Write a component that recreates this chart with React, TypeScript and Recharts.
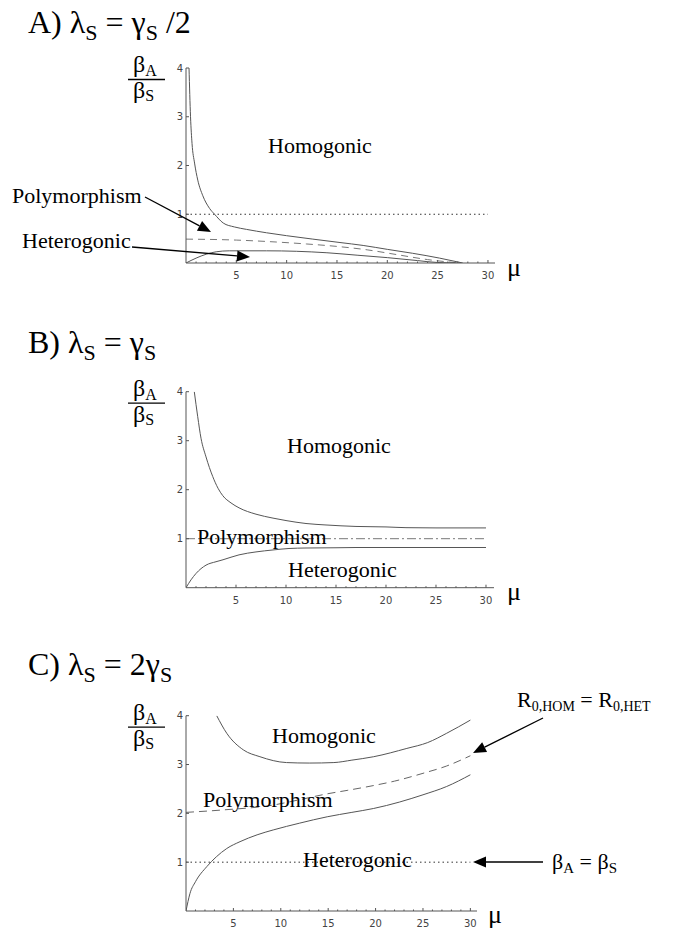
import React from "react";
import { LineChart, Line, XAxis, YAxis } from "recharts";

// A) lambda_S = gamma_S / 2
const muHomA = [0.3, 0.45, 0.6, 0.85, 1.17, 1.67, 2.34, 2.84, 3.7, 4.8, 6, 8, 10, 12.6, 15.3, 17.6, 20, 22.5, 25.2, 27.5];
const homA = [4.0, 3.0, 2.45, 2.05, 1.7, 1.38, 1.12, 1.0, 0.82, 0.74, 0.69, 0.62, 0.56, 0.49, 0.42, 0.36, 0.28, 0.2, 0.1, 0];
const muR0A = [0, 5, 9, 12, 15, 18, 21, 24, 27.2];
const r0A = [0.49, 0.47, 0.43, 0.39, 0.34, 0.27, 0.17, 0.07, 0];
const muHetA = [0, 1, 2, 3, 4.3, 8, 11, 14, 17, 20, 23, 25, 27.3];
const hetA = [0, 0.1, 0.18, 0.23, 0.25, 0.25, 0.24, 0.21, 0.16, 0.11, 0.05, 0.01, 0];

// B) lambda_S = gamma_S
const muHomB = [0.83, 1.17, 1.5, 2.0, 2.67, 3.2, 3.67, 4.5, 5.3, 7, 8.7, 10, 12, 14, 17, 20, 22, 25, 30];
const homB = [4.0, 3.49, 3.05, 2.67, 2.27, 2.03, 1.88, 1.73, 1.63, 1.5, 1.42, 1.37, 1.31, 1.28, 1.25, 1.24, 1.225, 1.22, 1.22];
const muHetB = [0, 0.5, 1, 2, 3, 3.7, 5.3, 7, 8.7, 10.3, 12, 15, 17, 20, 25, 30];
const hetB = [0, 0.16, 0.29, 0.46, 0.53, 0.57, 0.67, 0.73, 0.77, 0.8, 0.81, 0.815, 0.82, 0.82, 0.82, 0.82];

// C) lambda_S = 2 gamma_S
const muHomC = [3.24, 4.3, 6.05, 7.8, 10.6, 13, 15.6, 17.5, 19.8, 23.3, 25.5, 27.5, 30];
const homC = [4.0, 3.64, 3.3, 3.16, 3.04, 3.03, 3.04, 3.09, 3.16, 3.33, 3.45, 3.64, 3.91];
const muR0C = [0, 3.9, 9.2, 12, 14.9, 17, 19.8, 22, 25, 27.5, 30];
const r0C = [2.02, 2.07, 2.17, 2.28, 2.4, 2.47, 2.57, 2.66, 2.82, 2.97, 3.18];
const muHetC = [0, 0.42, 1, 2.2, 3.2, 4.3, 5.7, 7.5, 9.2, 12, 14.9, 17.5, 19.8, 22.5, 25, 27.5, 30];
const hetC = [0, 0.36, 0.6, 0.91, 1.11, 1.28, 1.42, 1.56, 1.66, 1.8, 1.93, 2.02, 2.1, 2.23, 2.38, 2.55, 2.79];

// beta_A = beta_S reference
const muEq = [0, 30];
const eq = [1, 1];

const xTicks = Array.from({ length: 30 }, (_, i) => i + 1);
const yTicks = [1, 2, 3, 4];

const serif = "'Liberation Serif', 'DejaVu Serif', 'Times New Roman', serif";
const sans = "'DejaVu Sans', sans-serif";

const pts = (mu: number[], v: number[]) => mu.map((m, i) => ({ mu: m, v: v[i] }));

const XTick = (p: any) => {
  const v = p.payload.value;
  const major = v % 5 === 0;
  return (
    <g>
      <line x1={p.x} x2={p.x} y1={p.y} y2={p.y - (major ? 3 : 1.5)} stroke="#555" />
      {major && (
        <text x={p.x} y={p.y + 16} textAnchor="middle" fontSize={10} fill="#444" style={{ fontFamily: sans }}>
          {v}
        </text>
      )}
    </g>
  );
};

const YTick = (p: any) => (
  <g>
    <line x1={p.x} x2={p.x + 3} y1={p.y} y2={p.y} stroke="#555" />
    <text x={p.x - 3} y={p.y + 3.6} textAnchor="end" fontSize={10} fill="#444" style={{ fontFamily: sans }}>
      {p.payload.value}
    </text>
  </g>
);

type Series = { data: { mu: number; v: number }[]; dash?: string; color?: string };

function Panel(props: { top: number; marginTop: number; plotH: number; plotW: number; xMax: number; series: Series[] }) {
  const { top, marginTop, plotH, plotW, xMax, series } = props;
  return (
    <div style={{ position: "absolute", left: 0, top }}>
      <LineChart
        width={692}
        height={marginTop + plotH + 18}
        margin={{ top: marginTop, left: 126, right: 692 - 186 - plotW, bottom: 0 }}
      >
        <XAxis
          type="number"
          dataKey="mu"
          domain={[0, xMax]}
          ticks={xTicks}
          interval={0}
          tick={XTick}
          tickSize={0}
          tickMargin={0}
          tickLine={false}
          axisLine={{ stroke: "#555" }}
          height={18}
          allowDataOverflow
        />
        <YAxis
          type="number"
          domain={[0, 4]}
          ticks={yTicks}
          interval={0}
          tick={YTick}
          tickSize={0}
          tickMargin={0}
          tickLine={false}
          axisLine={{ stroke: "#555" }}
          width={60}
          allowDataOverflow
        />
        {series.map((s, i) => (
          <Line
            key={i}
            data={s.data}
            dataKey="v"
            type="monotone"
            stroke={s.color ?? "#555"}
            strokeWidth={1}
            strokeDasharray={s.dash}
            dot={false}
            activeDot={false}
            isAnimationActive={false}
          />
        ))}
      </LineChart>
    </div>
  );
}

function Arrow({ x1, y1, x2, y2 }: { x1: number; y1: number; x2: number; y2: number }) {
  const dx = x2 - x1;
  const dy = y2 - y1;
  const len = Math.hypot(dx, dy);
  const ux = dx / len;
  const uy = dy / len;
  const hl = 13;
  const hw = 5.5;
  const bx = x2 - ux * hl;
  const by = y2 - uy * hl;
  const head = `${x2},${y2} ${bx - uy * hw},${by + ux * hw} ${bx + uy * hw},${by - ux * hw}`;
  return (
    <g>
      <line x1={x1} y1={y1} x2={bx} y2={by} stroke="#000" strokeWidth={1.3} />
      <polygon points={head} fill="#000" />
    </g>
  );
}

function Title({ y, letter, mid, tail }: { y: number; letter: string; mid: string; tail: string }) {
  return (
    <text x={28} y={y} fontSize={32} style={{ whiteSpace: "pre", fontFamily: serif }}>
      {letter}) λ
      <tspan fontSize={22} dy={7}>S</tspan>
      <tspan dy={-7}>{` = ${mid}`}</tspan>
      <tspan fontSize={22} dy={7}>S</tspan>
      <tspan dy={-7}>{tail}</tspan>
    </text>
  );
}

function Ratio({ top }: { top: number }) {
  return (
    <g style={{ fontFamily: serif }}>
      <text x={133} y={top + 4} fontSize={24}>
        β<tspan fontSize={16} dy={4}>A</tspan>
      </text>
      <line x1={128} x2={165} y1={top + 11.5} y2={top + 11.5} stroke="#000" strokeWidth={1.3} />
      <text x={133} y={top + 30} fontSize={24}>
        β<tspan fontSize={16} dy={3}>S</tspan>
      </text>
    </g>
  );
}

export default function App() {
  return (
    <div style={{ position: "absolute", left: 0, top: 0, width: 692, height: 930, background: "#fff", overflow: "hidden" }}>
      <Panel
        top={0}
        marginTop={68}
        plotH={195}
        plotW={309}
        xMax={30.7}
        series={[
          { data: pts(muEq, eq), dash: "1.5 3", color: "#333" },
          { data: pts(muHomA, homA) },
          { data: pts(muR0A, r0A), dash: "7 5", color: "#777" },
          { data: pts(muHetA, hetA) },
        ]}
      />
      <Panel
        top={320}
        marginTop={71.7}
        plotH={196}
        plotW={308}
        xMax={30.8}
        series={[
          { data: pts(muEq, eq), dash: "9 3 2 3", color: "#777" },
          { data: pts(muHomB, homB) },
          { data: pts(muHetB, hetB) },
        ]}
      />
      <Panel
        top={640}
        marginTop={75.7}
        plotH={195.3}
        plotW={291}
        xMax={30.7}
        series={[
          { data: pts(muEq, eq), dash: "1.5 3", color: "#333" },
          { data: pts(muHomC, homC) },
          { data: pts(muR0C, r0C), dash: "8 5", color: "#666" },
          { data: pts(muHetC, hetC) },
        ]}
      />
      <svg width={692} height={930} style={{ position: "absolute", left: 0, top: 0, pointerEvents: "none" }}>
        <Title y={33} letter="A" mid="γ" tail=" /2" />
        <Title y={353} letter="B" mid="γ" tail="" />
        <Title y={675} letter="C" mid="2γ" tail="" />

        <Ratio top={68} />
        <Ratio top={391.7} />
        <Ratio top={715.7} />

        <g fontSize={26} style={{ fontFamily: serif }}>
          <text x={507} y={276}>μ</text>
          <text x={507} y={600}>μ</text>
          <text x={488} y={923}>μ</text>
        </g>

        <g fontSize={22} style={{ fontFamily: serif, whiteSpace: "pre" }}>
          <text x={268} y={153}>Homogonic</text>
          <text x={12} y={203}>Polymorphism</text>
          <text x={22} y={248}>Heterogonic</text>

          <text x={287} y={453}>Homogonic</text>
          <text x={197} y={544}>Polymorphism</text>
          <text x={288} y={577}>Heterogonic</text>

          <text x={272} y={743}>Homogonic</text>
          <text x={203} y={807}>Polymorphism</text>
          <text x={303} y={867}>Heterogonic</text>

          <text x={517} y={707}>
            R<tspan fontSize={14} dy={4}>0,HOM</tspan>
            <tspan dy={-4}>{" = R"}</tspan>
            <tspan fontSize={14} dy={4}>0,HET</tspan>
          </text>
          <text x={552} y={869}>
            β<tspan fontSize={15} dy={4}>A</tspan>
            <tspan dy={-4}>{" = β"}</tspan>
            <tspan fontSize={15} dy={4}>S</tspan>
          </text>
        </g>

        <Arrow x1={145} y1={197} x2={211} y2={232} />
        <Arrow x1={132} y1={247} x2={250} y2={257} />
        <Arrow x1={543} y1={718} x2={473} y2={753} />
        <Arrow x1={543} y1={862} x2={473} y2={862} />
      </svg>
    </div>
  );
}
